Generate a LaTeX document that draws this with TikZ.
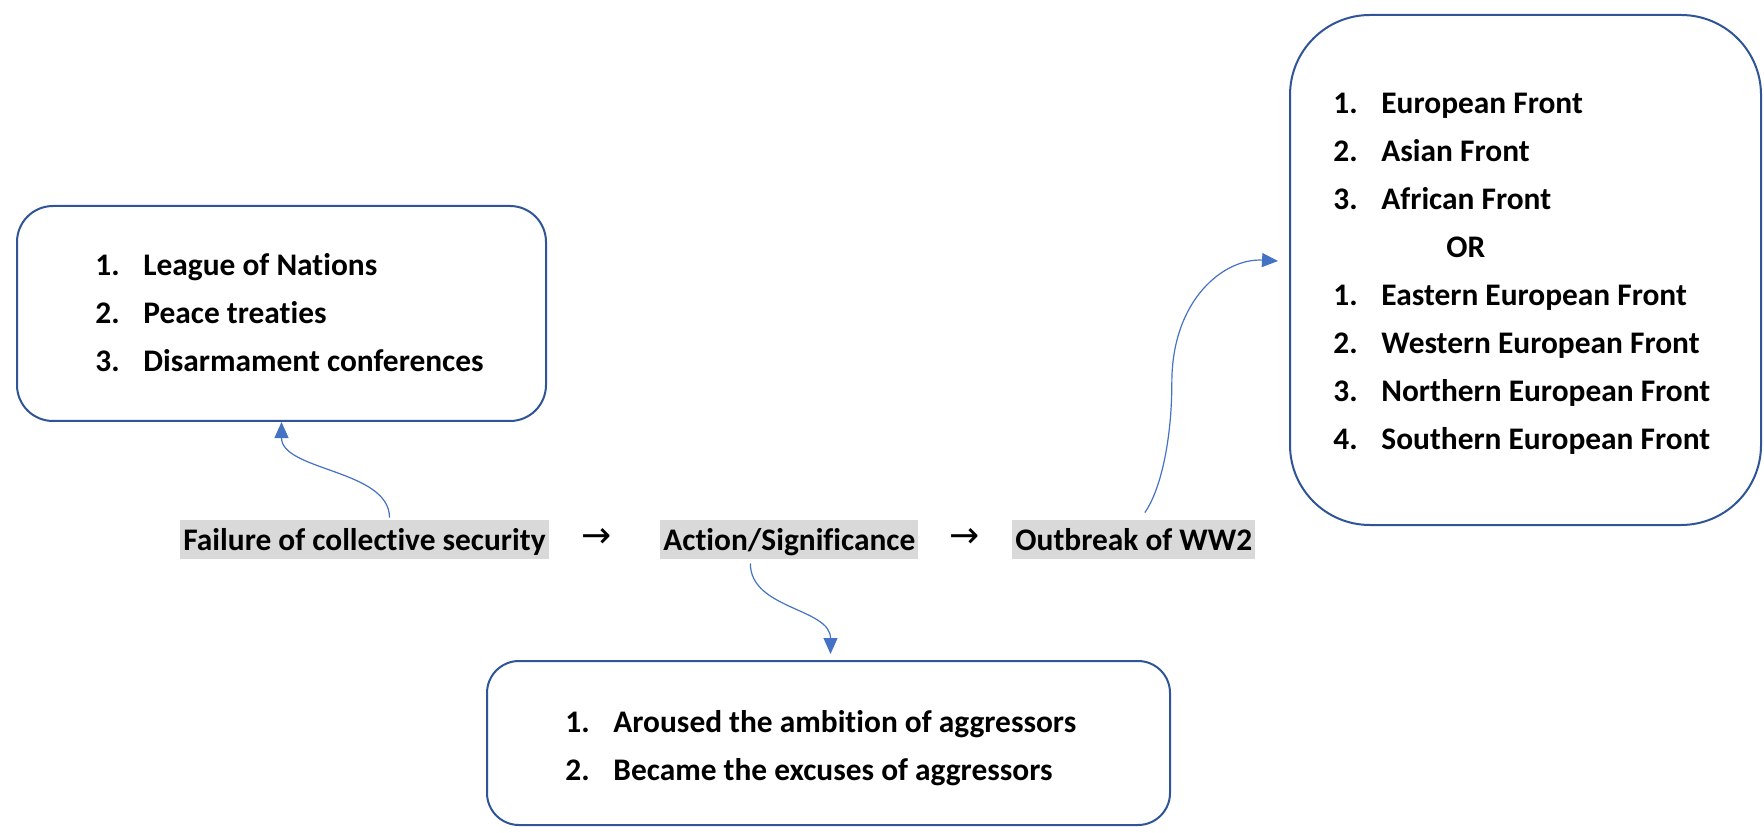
\documentclass[tikz,border=0pt]{standalone}
\usepackage{fontspec}
\setmainfont[Ligatures=NoCommon]{Carlito}
\newfontfamily\symfont{DejaVu Sans}
\usetikzlibrary{arrows.meta,calc}
\definecolor{boxline}{RGB}{47,85,151}
\definecolor{connblue}{RGB}{68,114,196}
\definecolor{hlgray}{RGB}{217,217,217}
\tikzset{
  box/.style={draw=boxline, line width=1pt, fill=white, inner sep=0pt},
  listtext/.style={anchor=base west, inner sep=0pt, font=\fontsize{15.7}{24}\selectfont\bfseries},
  hl/.style={anchor=base west, fill=hlgray, inner xsep=1.5pt, inner ysep=0pt, text height=15pt, text depth=4.5pt, font=\fontsize{15.7}{18}\selectfont\bfseries},
  arrowglyph/.style={inner sep=0pt, font=\fontsize{18}{20}\selectfont\symfont},
  conn/.style={draw=connblue, line width=0.6pt, -{Triangle[length=8pt,width=7pt]}}
}
\begin{document}
\begin{tikzpicture}[x=0.5pt,y=-0.5pt]
\useasboundingbox (0,0) rectangle (1764,833);
% boxes
\node[box, rounded corners=18pt, minimum width=264.5pt, minimum height=107.5pt] (leftbox) at (281.5,313.5) {};
\node[box, rounded corners=16pt, minimum width=341.5pt, minimum height=82pt] (botbox) at (828.5,743) {};
\node[box, rounded corners=40pt, minimum width=235.5pt, minimum height=255pt] (rightbox) at (1525.5,270) {};
% lists
\node[listtext] (leftlist) at (95,276) {\begin{tabular}[t]{@{}p{24pt}@{}l@{}}
1. & League of Nations\\
2. & Peace treaties\\
3. & Disarmament conferences
\end{tabular}};
\node[listtext] (botlist) at (565,732) {\begin{tabular}[t]{@{}p{24pt}@{}l@{}}
1. & Aroused the ambition of aggressors\\
2. & Became the excuses of aggressors
\end{tabular}};
\node[listtext] (rightlist) at (1333,114) {\begin{tabular}[t]{@{}p{24pt}@{}l@{}}
1. & European Front\\
2. & Asian Front\\
3. & African Front\\
 & \hspace{32.5pt}OR\\
1. & Eastern European Front\\
2. & Western European Front\\
3. & Northern European Front\\
4. & Southern European Front
\end{tabular}};
% highlighted labels
\node[hl] (fail) at (180,550) {Failure of collective security};
\node[hl] (action) at (660,550) {Action/Significance};
\node[hl] (outbreak) at (1012,550) {Outbreak of WW2};
\node[arrowglyph] (arr1) at (597,538) {→};
\node[arrowglyph] (arr2) at (965,538) {→};
% connectors
\draw[conn] ($(fail.north)+(25,-2)$) .. controls ($(fail.north)+(25,-50)$) and ($(leftbox.south)+(0,49)$) .. (leftbox.south);
\draw[conn] ($(action.south)+(-39,4)$) .. controls ($(action.south)+(-39,50)$) and ($(botbox.north)+(2,-52)$) .. ($(botbox.north)+(2,-6)$);
\coordinate (bend) at ($(outbreak.north)+(38,-137)$);
\draw[conn] ($(outbreak.north)+(11,-7)$) .. controls ($(outbreak.north)+(27,-30)$) and ($(bend)+(0,57)$) .. (bend)
  .. controls ($(bend)+(0,-83)$) and ($(rightbox.west)+(-65,-12)$) .. ($(rightbox.west)+(-11,-9)$);
\end{tikzpicture}
\end{document}
